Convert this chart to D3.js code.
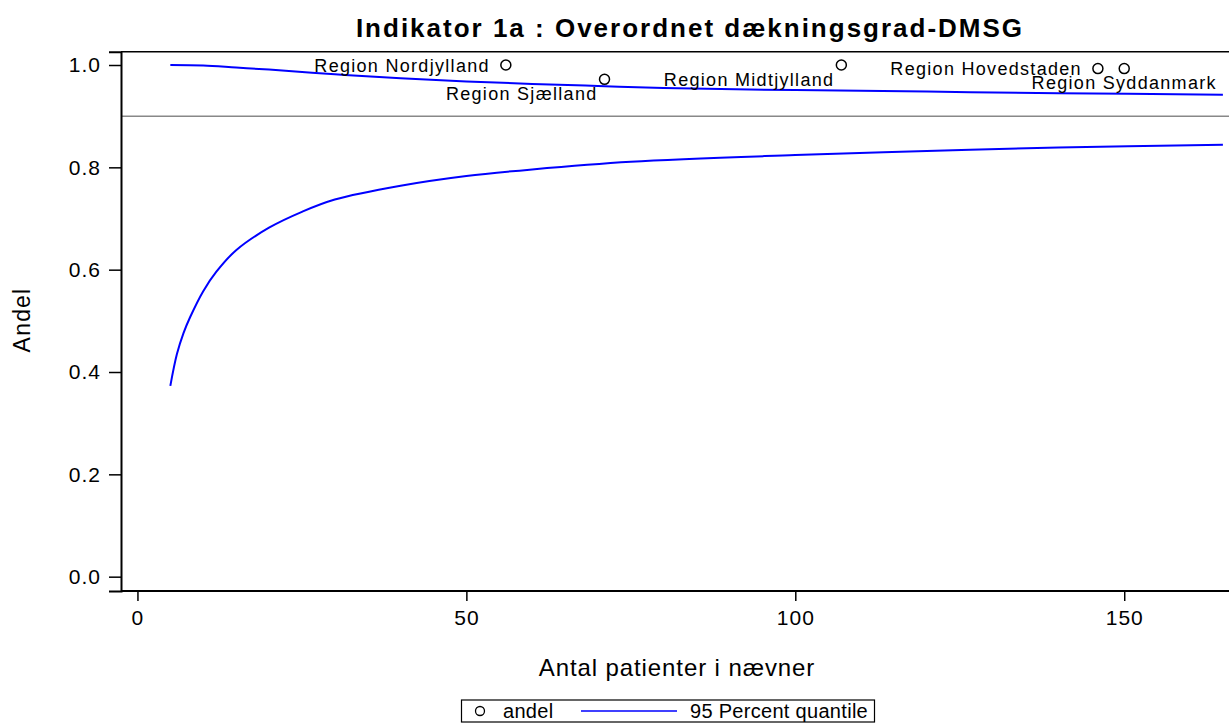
<!DOCTYPE html>
<html>
<head>
<meta charset="utf-8">
<script src="https://cdn.jsdelivr.net/npm/d3@7"></script>
<style>
  body { margin: 0; background: #fff; }
  svg { display: block; font-family: Arial, "Liberation Sans", sans-serif; }
</style>
</head>
<body>
<script>
// regions: denominator (n) and share (andel)
var regions = ['Region Nordjylland', 'Region Sjælland', 'Region Midtjylland', 'Region Hovedstaden', 'Region Syddanmark'];
var regionN = [56, 71, 107, 146, 150];
var regionAndel = [1.0, 0.972, 1.0, 0.993, 0.993];

// 95 percent quantile limits, read at these denominators
var limitN = [5, 6, 7, 8, 10, 12, 15, 20, 25, 30, 40, 50, 60, 75, 100, 120, 140, 165];
var lowerLimit = [0.373, 0.435, 0.476, 0.507, 0.558, 0.596, 0.638, 0.682, 0.713, 0.737, 0.764, 0.783, 0.796, 0.811, 0.824, 0.832, 0.839, 0.844];
var upperN = [5, 10, 15, 20, 30, 40, 50, 60, 70, 80, 100, 120, 140, 165];
var upperLimit = [1.000, 0.999, 0.995, 0.991, 0.982, 0.974, 0.968, 0.963, 0.959, 0.955, 0.951, 0.948, 0.945, 0.942];

var target = 0.9;
var xTicks = [0, 50, 100, 150];
var yTicks = [0.0, 0.2, 0.4, 0.6, 0.8, 1.0];

// where each region's label sits relative to its point
var labelPlace = {
  'Region Nordjylland': 'left',
  'Region Sjælland': 'belowleft',
  'Region Midtjylland': 'belowleft',
  'Region Hovedstaden': 'left',
  'Region Syddanmark': 'below'
};

var W = 1229, H = 726;
var svg = d3.select('body').append('svg').attr('width', W).attr('height', H);

var x = d3.scaleLinear().domain([-2.5, 167.6]).range([121, 1240]);
var y = d3.scaleLinear().domain([-0.028, 1.026]).range([591, 51.7]);

// title
svg.append('text')
  .attr('x', 690).attr('y', 37)
  .attr('text-anchor', 'middle')
  .style('font-size', '26px').style('font-weight', 'bold')
  .style('letter-spacing', '2px')
  .text('Indikator 1a : Overordnet dækningsgrad-DMSG');

// top frame line
svg.append('line')
  .attr('x1', 121).attr('x2', W).attr('y1', 51.7).attr('y2', 51.7)
  .style('stroke', '#000').style('stroke-width', 1.5);

// target line
svg.append('line')
  .attr('x1', 121).attr('x2', W).attr('y1', y(target)).attr('y2', y(target))
  .style('stroke', '#888').style('stroke-width', 1.5);

// axes
var xAxis = d3.axisBottom(x).tickValues(xTicks).tickSize(10).tickPadding(9).tickFormat(d3.format('d'));
var yAxis = d3.axisLeft(y).tickValues(yTicks).tickSize(12).tickPadding(8).tickFormat(d3.format('.1f'));

var gx = svg.append('g').attr('transform', 'translate(0,591)').call(xAxis);
var gy = svg.append('g').attr('transform', 'translate(121,0)').call(yAxis);
[gx, gy].forEach(function(g){
  g.select('.domain').style('stroke', '#000').style('stroke-width', 2);
  g.selectAll('.tick line').style('stroke', '#000').style('stroke-width', 1.5);
  g.selectAll('.tick text')
    .style('font-size', '21px').style('fill', '#000')
    .style('letter-spacing', '1px')
    .style('font-family', 'Arial, "Liberation Sans", sans-serif');
});
gx.select('.domain').attr('d', 'M121,0H' + W);

// axis labels
svg.append('text')
  .attr('x', 677).attr('y', 676)
  .attr('text-anchor', 'middle')
  .style('font-size', '24px')
  .style('letter-spacing', '0.9px')
  .text('Antal patienter i nævner');
svg.append('text')
  .attr('transform', 'translate(30,320) rotate(-90)')
  .attr('text-anchor', 'middle')
  .style('font-size', '23px')
  .style('letter-spacing', '1.2px')
  .text('Andel');

// limit curves
var line = d3.line().curve(d3.curveCatmullRom);
var lowerPts = limitN.map(function(n, i){ return [x(n), y(lowerLimit[i])]; });
var upperPts = upperN.map(function(n, i){ return [x(n), y(upperLimit[i])]; });
[lowerPts, upperPts].forEach(function(pts){
  svg.append('path')
    .attr('d', line(pts))
    .style('fill', 'none')
    .style('stroke', '#0000ff')
    .style('stroke-width', 2);
});

// region points and labels
var pts = regions.map(function(r, i){ return {name: r, n: regionN[i], v: regionAndel[i]}; });
var g = svg.selectAll('.region').data(pts).enter().append('g').attr('class', 'region');
g.append('circle')
  .attr('cx', function(d){ return x(d.n); })
  .attr('cy', function(d){ return y(d.v); })
  .attr('r', 5)
  .style('fill', 'none').style('stroke', '#000').style('stroke-width', 1.5);
g.append('text')
  .attr('x', function(d){
    var p = labelPlace[d.name];
    if (p === 'left') return x(d.n) - 16;
    if (p === 'belowleft') return x(d.n) - 7;
    return x(d.n);
  })
  .attr('y', function(d){
    var p = labelPlace[d.name];
    return y(d.v) + (p === 'left' ? 6.5 : 20.5);
  })
  .attr('text-anchor', function(d){ return labelPlace[d.name] === 'below' ? 'middle' : 'end'; })
  .style('font-size', '18px')
  .style('letter-spacing', '1.3px')
  .text(function(d){ return d.name; });

// legend
var lg = svg.append('g');
lg.append('rect')
  .attr('x', 461.5).attr('y', 700).attr('width', 413).attr('height', 22)
  .style('fill', 'none').style('stroke', '#000').style('stroke-width', 1.2);
lg.append('circle').attr('cx', 480).attr('cy', 711).attr('r', 4.5)
  .style('fill', 'none').style('stroke', '#000').style('stroke-width', 1.3);
lg.append('text').attr('x', 503).attr('y', 718).style('font-size', '20px').style('letter-spacing', '0.3px').text('andel');
lg.append('line').attr('x1', 581).attr('x2', 677).attr('y1', 711).attr('y2', 711)
  .style('stroke', '#0000ff').style('stroke-width', 1.5);
lg.append('text').attr('x', 690).attr('y', 718).style('font-size', '20px').style('letter-spacing', '0.3px').text('95 Percent quantile');
</script>
</body>
</html>
